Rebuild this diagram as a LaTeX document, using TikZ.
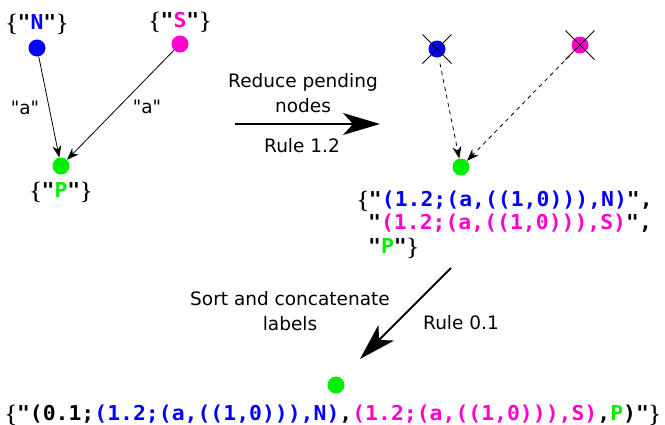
\documentclass[tikz,border=0pt]{standalone}
\usepackage{fontspec}
\usepackage{graphicx}
\usetikzlibrary{arrows.meta}
\newfontfamily\sansf{DejaVu Sans}
\newfontfamily\monof{DejaVu Sans Mono}[UprightFont=* Bold]
\definecolor{cblue}{RGB}{0,0,255}
\definecolor{cmag}{RGB}{255,0,204}
\definecolor{cgreen}{RGB}{0,238,0}
\newcommand\ml[1]{\scalebox{1.045}[1]{\monof #1}}
\newcommand\cb[1]{\textcolor{cblue}{#1}}
\newcommand\cm[1]{\textcolor{cmag}{#1}}
\newcommand\cg[1]{\textcolor{cgreen}{#1}}
\newcommand\lb{\textbf{\{}}
\newcommand\rb{\textbf{\}}}
\tikzset{
  dot/.style={circle, inner sep=0pt, minimum size=17pt},
  lbl/.style={font=\fontsize{20.5}{24}\selectfont, inner sep=0pt},
  txt/.style={font=\sansf\fontsize{18.5}{25}\selectfont, align=center, inner sep=0pt},
  edgearrow/.style={-{Stealth[length=12pt,width=9pt,inset=4pt]}, line width=0.8pt},
  bigarrow/.style={-{Stealth[length=37pt,width=22pt,inset=10pt]}, line width=2pt},
  crossline/.style={line width=0.8pt},
}
\begin{document}
\begin{tikzpicture}[x=1pt,y=-1pt]
\useasboundingbox (0,0) rectangle (665,424);
% left graph
\node[dot, fill=cblue] (n1) at (37,48) {};
\node[dot, fill=cmag] (s1) at (180,44) {};
\node[dot, fill=cgreen] (p1) at (61,166) {};
\node[lbl, anchor=base] (ln1) at (37,29.5) {\lb\ml{"\cb{N}"}\rb};
\node[lbl, anchor=base] (ls1) at (180,27) {\lb\ml{"\cm{S}"}\rb};
\node[lbl, anchor=base] (lp1) at (61,197) {\lb\ml{"\cg{P}"}\rb};
\draw[edgearrow] (n1) -- (p1);
\draw[edgearrow] (s1) -- (p1);
\node[txt] (a1) at (25,108) {"a"};
\node[txt] (a2) at (147,107) {"a"};
% first rule arrow
\coordinate (r1s) at (235,124);
\coordinate (r1e) at (380,124);
\draw[bigarrow] (r1s) -- (r1e);
\node[txt] (t1) at (303,93.5) {Reduce pending\\nodes};
\node[txt] (t2) at (302,146) {Rule 1.2};
% right graph
\node[dot, fill=cblue] (n2) at (437,49) {};
\node[dot, fill=cmag] (s2) at (580,45) {};
\node[dot, fill=cgreen] (p2) at (461,167) {};
\draw[crossline] (n2.center) ++(-14.5,-14.5) -- ++(29,29);
\draw[crossline] (n2.center) ++(14.5,-14.5) -- ++(-29,29);
\draw[crossline] (s2.center) ++(-14.5,-14.5) -- ++(29,29);
\draw[crossline] (s2.center) ++(14.5,-14.5) -- ++(-29,29);
\draw[edgearrow, dash pattern=on 4pt off 4pt, shorten <=6pt] (n2) -- (p2);
\draw[edgearrow, dash pattern=on 4pt off 4pt, shorten <=6pt] (s2) -- (p2);
\node[lbl, anchor=base west] (l21) at (357,206) {\lb\ml{"\cb{(1.2;(a,((1,0))),N)}",}};
\node[lbl, anchor=base west] (l22) at (368,229.5) {\ml{"\cm{(1.2;(a,((1,0))),S)}",}};
\node[lbl, anchor=base west] (l23) at (368,253) {\ml{"\cg{P}"}\rb};
% second rule arrow
\coordinate (r2s) at (451,268);
\coordinate (r2e) at (360,359);
\draw[bigarrow] (r2s) -- (r2e);
\node[txt] (t3) at (290,311.5) {Sort and concatenate\\labels};
\node[txt] (t4) at (461,323) {Rule 0.1};
% result
\node[dot, fill=cgreen] (p3) at (336,385) {};
\node[lbl, anchor=base] (l3) at (333,420) {\lb\ml{"(0.1;\cb{(1.2;(a,((1,0))),N)},\cm{(1.2;(a,((1,0))),S)},\cg{P})"}\rb};
\end{tikzpicture}
\end{document}
